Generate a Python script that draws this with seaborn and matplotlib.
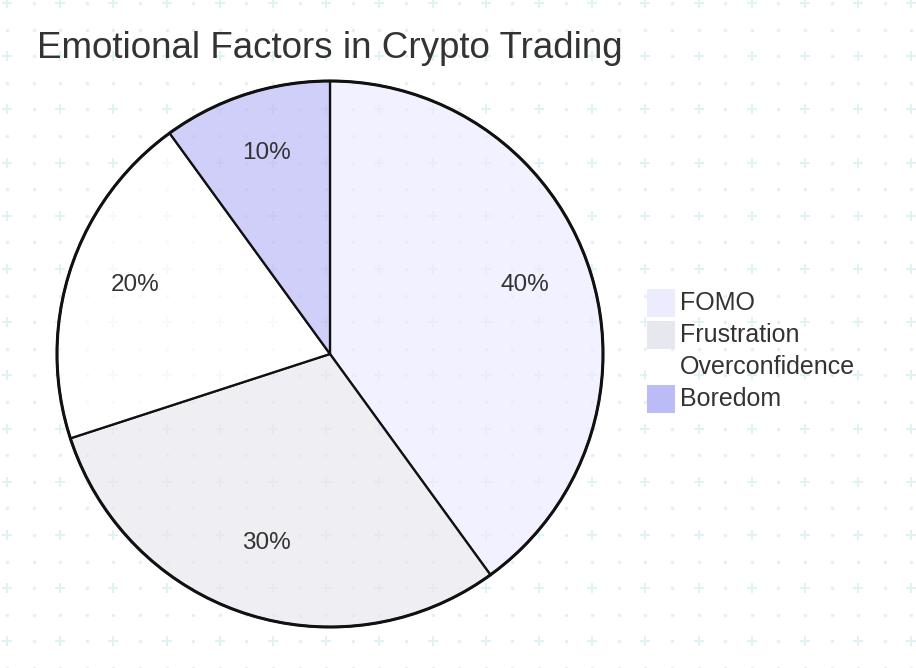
import matplotlib
matplotlib.use('Agg')

import numpy as np
import matplotlib.pyplot as plt
import matplotlib.transforms as mtransforms
from matplotlib.colors import to_rgba
from matplotlib.patches import Rectangle, Circle
import seaborn as sns

# data
labels = ['FOMO', 'Frustration', 'Overconfidence', 'Boredom']
values = [40, 30, 20, 10]
colors = ['#ECECFF', '#E7E7EF', '#FFFFFF', '#BBBBF7']
title = 'Emotional Factors in Crypto Trading'

sns.set_theme(style='white')
plt.rcParams['font.family'] = ['Liberation Sans', 'DejaVu Sans']

W, H = 916, 668
fig = plt.figure(figsize=(W / 100, H / 100), dpi=100)
fig.patch.set_facecolor('white')

# dotted / plus background pattern
bg = fig.add_axes([0, 0, 1, 1])
bg.set_xlim(0, W)
bg.set_ylim(H, 0)
bg.axis('off')
step = 26.6
xs = 7 + step * np.arange(0, 36)
ys = 3 + step * np.arange(0, 26)
gx, gy = np.meshgrid(np.arange(len(xs)), np.arange(len(ys)))
is_plus = (gx % 2 == 0) & (gy % 2 == 0)
pat = '#dff2f4'
bg.scatter(xs[gx[is_plus]], ys[gy[is_plus]], marker='+', s=42, linewidths=1.4,
           color=pat, zorder=0)
bg.scatter(xs[gx[~is_plus]], ys[gy[~is_plus]], marker='o', s=6, linewidths=0,
           color=pat, zorder=0)

# pie
cx, cy, r = 330, 354, 273
ax = fig.add_axes([(cx - r) / W, (H - cy - r) / H, 2 * r / W, 2 * r / H])
ax.set_facecolor('none')
wedges, texts, autotexts = ax.pie(
    values, colors=[to_rgba(c, 0.7) for c in colors], startangle=90,
    counterclock=False, autopct='%1.0f%%', pctdistance=0.75,
    wedgeprops=dict(edgecolor='#111111', linewidth=1.6),
    textprops=dict(color='#333333', fontsize=17.5))
lift = mtransforms.ScaledTranslation(0, 6 / 100, fig.dpi_scale_trans)
for t in autotexts:
    t.set_transform(t.get_transform() + lift)
ax.add_patch(Circle((0, 0), 1.0, fill=False, edgecolor='#111111',
                    linewidth=2.2, clip_on=False))
ax.set_xlim(-1.0, 1.0)
ax.set_ylim(-1.0, 1.0)
ax.set_aspect('equal')
ax.axis('off')
for w in wedges:
    w.set_clip_on(False)

# title
fig.text(37 / W, 1 - 49 / H, title, fontsize=26.5, color='#333333',
         ha='left', va='center')

# legend
for i, (lab, col) in enumerate(zip(labels, colors)):
    yc = 303 + 32 * i
    bg.add_patch(Rectangle((647, yc - 14), 28, 28, facecolor=col,
                           edgecolor='none', zorder=2))
    bg.text(680, yc, lab, fontsize=18, color='#333333', ha='left',
            va='center', zorder=3)

fig.savefig('out.png', dpi=100)
